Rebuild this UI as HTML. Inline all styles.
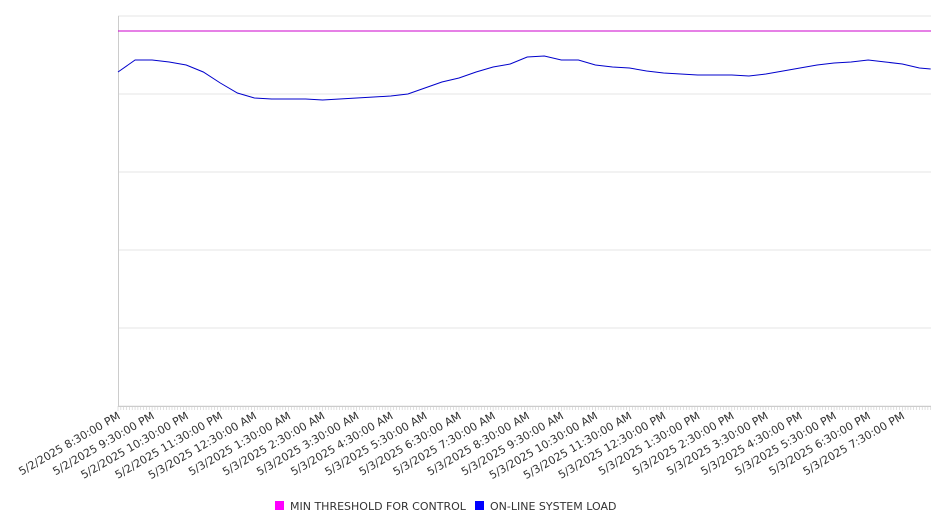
<!DOCTYPE html>
<html><head><meta charset="utf-8"><style>
body{margin:0;background:#fff;font-family:"DejaVu Sans","Liberation Sans",sans-serif}
</style></head><body>
<svg id="chart" width="946" height="526" xmlns="http://www.w3.org/2000/svg"></svg>
<script>
const minutes=[0,30,60,90,120,150,180,210,240,270,300,330,360,390,420,450,480,510,540,570,600,630,660,690,720,750,780,810,840,870,900,930,960,990,1020,1050,1080,1110,1140,1170,1200,1230,1260,1290,1320,1350,1380,1410,1430];
const loadValues=[4282,4436,4436,4410,4372,4282,4141,4013,3949,3936,3936,3936,3923,3936,3949,3962,3974,4000,4077,4154,4205,4282,4346,4385,4474,4487,4436,4436,4372,4346,4333,4295,4269,4256,4244,4244,4244,4231,4256,4295,4333,4372,4397,4410,4436,4410,4385,4333,4320];
const thresholdValue=4808;
const tickLabels=["5/2/2025 8:30:00 PM","5/2/2025 9:30:00 PM","5/2/2025 10:30:00 PM","5/2/2025 11:30:00 PM","5/3/2025 12:30:00 AM","5/3/2025 1:30:00 AM","5/3/2025 2:30:00 AM","5/3/2025 3:30:00 AM","5/3/2025 4:30:00 AM","5/3/2025 5:30:00 AM","5/3/2025 6:30:00 AM","5/3/2025 7:30:00 AM","5/3/2025 8:30:00 AM","5/3/2025 9:30:00 AM","5/3/2025 10:30:00 AM","5/3/2025 11:30:00 AM","5/3/2025 12:30:00 PM","5/3/2025 1:30:00 PM","5/3/2025 2:30:00 PM","5/3/2025 3:30:00 PM","5/3/2025 4:30:00 PM","5/3/2025 5:30:00 PM","5/3/2025 6:30:00 PM","5/3/2025 7:30:00 PM"];
const yTicks=[0,1000,2000,3000,4000,5000];

const svg=document.getElementById('chart');
const NS='http://www.w3.org/2000/svg';
const L=118,R=931,T=16,B=406,yMax=5000,xMaxMin=1430;
const xS=m=>L+m/60*34.1;
const yS=v=>B-v/yMax*(B-T);
function mk(tag,attrs){const e=document.createElementNS(NS,tag);for(const k in attrs)e.setAttribute(k,attrs[k]);svg.appendChild(e);return e;}

yTicks.forEach(v=>{
  const g=mk('line',{x1:L,x2:R,y1:yS(v),y2:yS(v),stroke:'#e6e6e6','stroke-width':1});
  
  
});
const ax=mk('line',{x1:L+0.5,x2:L+0.5,y1:T,y2:B,stroke:'#ccc','stroke-width':1});


const xa=mk('line',{x1:L,x2:R,y1:B+0.5,y2:B+0.5,stroke:'#ccc','stroke-width':1});


for(let m=0;m<=xMaxMin;m+=5){
  const t=mk('line',{x1:xS(m),x2:xS(m),y1:B,y2:B+(m%60==0?5:4),stroke:'#ccc','stroke-width':0.6});
  
  
}
tickLabels.forEach((s,i)=>{
  const x=xS(i*60)+3,y=B+12;
  const t=mk('text',{x:x,y:y,'text-anchor':'end','font-size':11,fill:'#333',transform:`rotate(-30 ${x} ${y})`});
  t.textContent=s;
  
  
});
const th=mk('line',{x1:L,x2:R,y1:yS(thresholdValue),y2:yS(thresholdValue),stroke:'#cc00cc','stroke-width':1});


const pts=minutes.map((m,i)=>xS(m).toFixed(1)+','+yS(loadValues[i]).toFixed(1)).join(' ');
const ln=mk('polyline',{points:pts,fill:'none',stroke:'#0000cc','stroke-width':1});



const leg=[['#ff00ff','MIN THRESHOLD FOR CONTROL',275],['#0000ff','ON-LINE SYSTEM LOAD',475]];
leg.forEach(([c,s,x])=>{
  const r=mk('rect',{x:x,y:501,width:9,height:9,fill:c});
  
  
  const t=mk('text',{x:x+15,y:510,'font-size':11,fill:'#333'});
  t.textContent=s;
  
  
});
</script>
</body></html>
